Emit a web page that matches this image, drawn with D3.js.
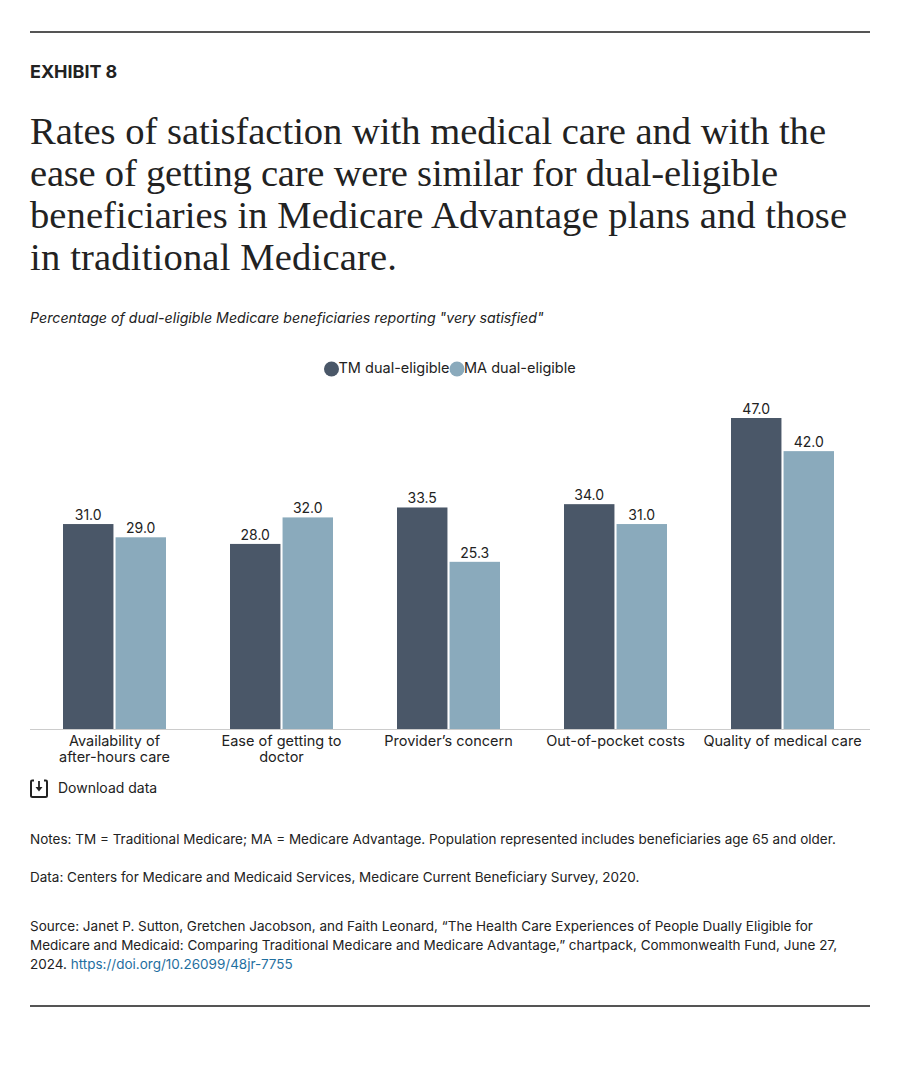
<!DOCTYPE html>
<html>
<head>
<meta charset="utf-8">
<script src="https://cdn.jsdelivr.net/npm/d3@7"></script>
<style>
  html, body { margin: 0; padding: 0; background: #fff; }
  svg { display: block; }
  text { font-family: Inter, "Noto Sans", sans-serif; fill: #222; }
  .title { font-family: "Liberation Serif", serif; font-size: 38.6px; fill: #222; }
  .note { font-size: 13.5px; }
  .tick text { font-size: 14.5px; }
  .value { font-size: 14px; text-anchor: middle; }
</style>
</head>
<body>
<div id="chart"></div>
<script>
const categories = [
  ["Availability of", "after-hours care"],
  ["Ease of getting to", "doctor"],
  ["Provider’s concern"],
  ["Out-of-pocket costs"],
  ["Quality of medical care"]
]
const tmValues = [31.0, 28.0, 33.5, 34.0, 47.0]
const maValues = [29.0, 32.0, 25.3, 31.0, 42.0]
const seriesNames = ["TM dual-eligible", "MA dual-eligible"]
const colors = ["#4a5768", "#8aaabc"]

const titleLines = [
  "Rates of satisfaction with medical care and with the",
  "ease of getting care were similar for dual-eligible",
  "beneficiaries in Medicare Advantage plans and those",
  "in traditional Medicare."
]
const subtitle = "Percentage of dual-eligible Medicare beneficiaries reporting \"very satisfied\""
const notes = "Notes: TM = Traditional Medicare; MA = Medicare Advantage. Population represented includes beneficiaries age 65 and older."
const dataNote = "Data: Centers for Medicare and Medicaid Services, Medicare Current Beneficiary Survey, 2020."
const sourceLines = [
  "Source: Janet P. Sutton, Gretchen Jacobson, and Faith Leonard, “The Health Care Experiences of People Dually Eligible for",
  "Medicare and Medicaid: Comparing Traditional Medicare and Medicare Advantage,” chartpack, Commonwealth Fund, June 27,"
]
const sourceEnd = "2024."
const doi = "https://doi.org/10.26099/48jr-7755"

const width = 900
const height = 1068
const margin = {left: 30, right: 30}
const plot = {left: 31, right: 866, top: 418, bottom: 729.5}
// the original serif runs a bit differently per line, so each line is fitted
const titleWidths = [796, 748, 817, 367]

const svg = d3.select("#chart").append("svg")
  .attr("viewBox", [0, 0, width, height])
  .attr("width", width)
  .attr("height", height)

// top and bottom rules
svg.selectAll("line.rule")
  .data([32, 1006])
  .join("line")
    .attr("class", "rule")
    .attr("x1", margin.left).attr("x2", width - margin.right)
    .attr("y1", d => d).attr("y2", d => d)
    .attr("stroke", "#555").attr("stroke-width", 2)

svg.append("text")
  .attr("x", margin.left).attr("y", 78)
  .attr("font-size", 18).attr("font-weight", 700)
  .attr("letter-spacing", "-0.05")
  .text("EXHIBIT 8")

svg.selectAll("text.title")
  .data(titleLines)
  .join("text")
    .attr("class", "title")
    .attr("x", margin.left)
    .attr("y", (d, i) => 143.5 + i * 42)
    .attr("textLength", (d, i) => titleWidths[i])
    .attr("lengthAdjust", "spacing")
    .text(d => d)

svg.append("text")
  .attr("x", margin.left).attr("y", 323)
  .attr("font-size", 14.2).attr("font-style", "italic")
  .text(subtitle)

// legend
const legend = svg.append("g")
const legendX = [331.5, 457]
seriesNames.forEach((name, i) => {
  legend.append("circle")
    .attr("cx", legendX[i]).attr("cy", 369).attr("r", 7.5)
    .attr("fill", colors[i])
  legend.append("text")
    .attr("x", legendX[i] + 7).attr("y", 373)
    .attr("font-size", 14.5)
    .text(name)
})

const x0 = d3.scaleBand()
  .domain(d3.range(categories.length))
  .range([plot.left, plot.right])

const x1 = d3.scaleBand()
  .domain([0, 1])
  .range([x0.bandwidth() / 2 - 51.5, x0.bandwidth() / 2 + 51.5])
  .paddingInner(0.04)

const y = d3.scaleLinear()
  .domain([0, 47])
  .range([plot.bottom, plot.top])

const groups = svg.append("g")
  .selectAll("g")
  .data(categories.map((c, i) => [tmValues[i], maValues[i]]))
  .join("g")
    .attr("transform", (d, i) => `translate(${x0(i)},0)`)

groups.selectAll("rect")
  .data(d => d)
  .join("rect")
    .attr("x", (d, i) => x1(i))
    .attr("y", d => y(d))
    .attr("width", x1.bandwidth())
    .attr("height", d => y(0) - y(d))
    .attr("fill", (d, i) => colors[i])

groups.selectAll("text")
  .data(d => d)
  .join("text")
    .attr("class", "value")
    .attr("x", (d, i) => x1(i) + x1.bandwidth() / 2)
    .attr("y", d => y(d) - 4)
    .text(d => d3.format(".1f")(d))

// x axis
const xAxis = d3.axisBottom(x0).tickSize(0).tickFormat("")
const gx = svg.append("g")
  .attr("transform", `translate(0,${plot.bottom})`)
  .call(xAxis)
gx.select(".domain").remove()
svg.append("line")
  .attr("x1", margin.left).attr("x2", width - margin.right)
  .attr("y1", plot.bottom).attr("y2", plot.bottom)
  .attr("stroke", "#ccc").attr("stroke-width", 1)

gx.selectAll(".tick text")
  .attr("y", 0).attr("dy", null)
  .attr("fill", "#222")
  .each(function(d) {
    d3.select(this).selectAll("tspan")
      .data(categories[d])
      .join("tspan")
        .attr("x", 0)
        .attr("y", (l, i) => 16 + i * 16)
        .text(l => l)
  })

// download link
const dl = svg.append("g").attr("transform", "translate(31,780.5)")
dl.append("path")
  .attr("d", "M3,0 H1.2 Q0,0 0,1.2 V15 Q0,16.5 1.5,16.5 H14.5 Q16,16.5 16,15 V1.2 Q16,0 14.8,0 H13")
  .attr("fill", "none").attr("stroke", "#222").attr("stroke-width", 2)
dl.append("path")
  .attr("d", "M8,0.5 V7")
  .attr("stroke", "#222").attr("stroke-width", 1.8)
dl.append("path")
  .attr("d", "M4.5,6.5 H11.5 L8,11 Z")
  .attr("fill", "#222")
svg.append("text")
  .attr("x", 58).attr("y", 793)
  .attr("font-size", 14)
  .text("Download data")

svg.append("text").attr("class", "note").attr("x", margin.left).attr("y", 844).text(notes)
svg.append("text").attr("class", "note").attr("x", margin.left).attr("y", 882).text(dataNote)

svg.selectAll("text.source")
  .data(sourceLines)
  .join("text")
    .attr("class", "note source")
    .attr("x", margin.left)
    .attr("y", (d, i) => 931 + i * 19)
    .text(d => d)

const lastLine = svg.append("text")
  .attr("class", "note")
  .attr("x", margin.left).attr("y", 969)
lastLine.append("tspan").text(sourceEnd + " ")
lastLine.append("tspan").style("fill", "#1f6f9f").text(doi)
</script>
</body>
</html>
